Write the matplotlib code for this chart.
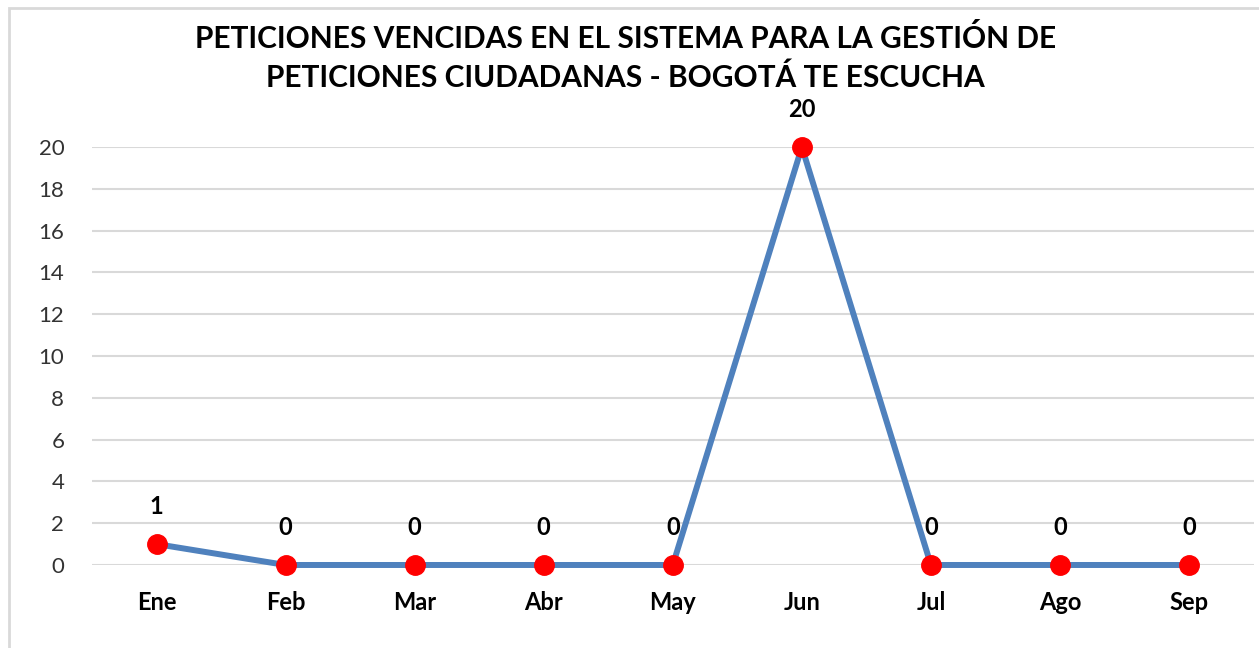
import matplotlib.pyplot as plt
from matplotlib.patches import Rectangle

# data
meses = ['Ene', 'Feb', 'Mar', 'Abr', 'May', 'Jun', 'Jul', 'Ago', 'Sep']
vencidas = [1, 0, 0, 0, 0, 20, 0, 0, 0]
titulo = ('PETICIONES VENCIDAS EN EL SISTEMA PARA LA GESTIÓN DE\n'
          'PETICIONES CIUDADANAS - BOGOTÁ TE ESCUCHA')

plt.rcParams['font.family'] = ['Lato', 'DejaVu Sans']

fig = plt.figure(figsize=(12.59, 6.48), dpi=100)
# light chart frame like the spreadsheet export
fig.patches.append(Rectangle((9 / 1259, -0.1), 1.2, 1 - 8 / 648 + 0.1,
                             transform=fig.transFigure, fill=False,
                             edgecolor='#D9D9D9', linewidth=2))

ax = fig.add_axes([0.0731, 0.1281, 0.9226, 0.645])
x = range(len(meses))
ax.plot(x, vencidas, color='#4F81BD', linewidth=4.3, zorder=3,
        solid_capstyle='butt', clip_on=False)
ax.plot(x, vencidas, 'o', color='#FF0000', markersize=14, zorder=4,
        clip_on=False)

for i, v in enumerate(vencidas):
    ax.annotate(str(v), (i, v), xytext=(0, 27), textcoords='offset points',
                ha='center', va='center', fontsize=17, fontweight='bold')

ax.set_xlim(-0.5, len(meses) - 0.5)
ax.set_ylim(0, 20)
ax.set_yticks(range(0, 21, 2))
ax.set_xticks(list(x))
ax.set_xticklabels(meses, fontweight='bold', fontsize=17)
ax.tick_params(axis='y', labelsize=16, pad=20, length=0, labelcolor='#333333')
ax.tick_params(axis='x', pad=19, length=0)
ax.grid(axis='y', color='#D9D9D9', linewidth=1.5, zorder=0)
for s in ax.spines.values():
    s.set_visible(False)

fig.text(0.497, 0.9105, titulo, ha='center', va='center', fontsize=21.5,
         fontweight='bold', linespacing=1.45)

plt.savefig('out.png', dpi=100)
